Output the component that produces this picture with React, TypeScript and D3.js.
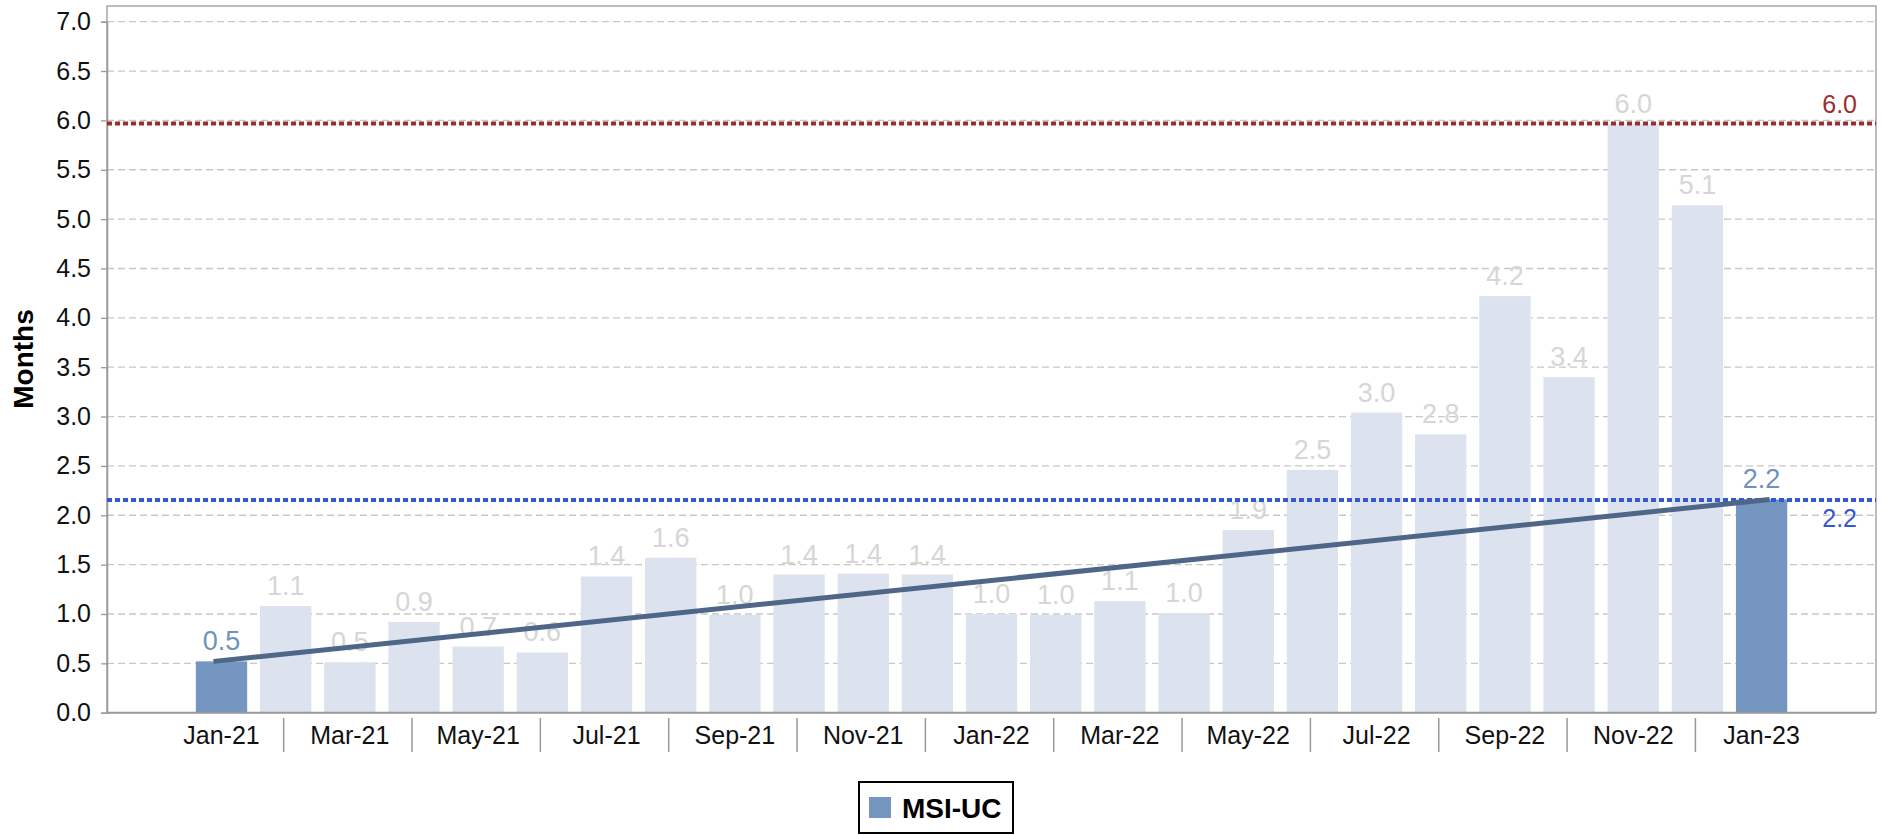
import React, { useEffect, useRef } from "react";
import * as d3 from "d3";

// months on the category axis
const months = [
  "Jan-21", "Feb-21", "Mar-21", "Apr-21", "May-21", "Jun-21", "Jul-21", "Aug-21", "Sep-21",
  "Oct-21", "Nov-21", "Dec-21", "Jan-22", "Feb-22", "Mar-22", "Apr-22", "May-22", "Jun-22",
  "Jul-22", "Aug-22", "Sep-22", "Oct-22", "Nov-22", "Dec-22", "Jan-23",
];
// months of supply (MSI-UC)
const msiValues = [
  0.52, 1.08, 0.51, 0.92, 0.67, 0.61, 1.38, 1.57, 0.99, 1.40, 1.41, 1.40, 1.00,
  0.99, 1.13, 1.01, 1.85, 2.46, 3.04, 2.82, 4.22, 3.40, 5.96, 5.14, 2.16,
];
const highlighted = ["Jan-21", "Jan-23"];
const yTicks = [0, 0.5, 1, 1.5, 2, 2.5, 3, 3.5, 4, 4.5, 5, 5.5, 6, 6.5, 7];
// horizontal reference lines: peak and current
const refValues = [5.97, 2.155];
const refLabels = ["6.0", "2.2"];
const refColors = ["#9e2b2e", "#3457d5"];

const W = 1886, H = 835;
const FONT = "'Liberation Sans', Arial, Helvetica, sans-serif";

export default function App() {
  const ref = useRef<SVGSVGElement>(null);

  useEffect(() => {
    const svg = d3.select(ref.current);
    svg.selectAll("*").remove();

    const left = 107, right = 1876, top = 6, bottom = 712.7;
    const y = d3.scaleLinear().domain([0, 7]).range([bottom, 21.7]);
    const x = d3.scaleBand().domain(months).range([183, 1800.1]).padding(0.2);
    const cx = (m: string) => (x(m) as number) + x.bandwidth() / 2;

    // frame
    svg.append("path")
      .attr("d", `M${left},${bottom}V${top}H${right}V${bottom}`)
      .attr("fill", "none").attr("stroke", "#a6a6a6").attr("stroke-width", 1.5);

    // gridlines
    svg.append("g").selectAll("line").data(yTicks.filter(t => t > 0)).join("line")
      .attr("x1", left).attr("x2", right)
      .attr("y1", d => y(d)).attr("y2", d => y(d))
      .attr("stroke", "#c8c8c8").attr("stroke-width", 1.3).attr("stroke-dasharray", "7,4");

    // y axis
    const yAxis = svg.append("g").attr("transform", `translate(${left},0)`)
      .call(d3.axisLeft(y).tickValues(yTicks).tickFormat(d3.format(".1f")).tickSize(6).tickPadding(10));
    yAxis.select(".domain").attr("stroke", "#999").attr("stroke-width", 1.5);
    yAxis.selectAll(".tick line").attr("stroke", "#999").attr("stroke-width", 1.3);
    yAxis.selectAll(".tick text").attr("font-family", FONT).attr("font-size", 25).attr("fill", "#111");

    svg.append("text")
      .attr("transform", `translate(33,359) rotate(-90)`)
      .attr("text-anchor", "middle").attr("font-family", FONT)
      .attr("font-size", 28).attr("font-weight", "bold").attr("fill", "#000")
      .text("Months");

    // bars
    svg.append("g").selectAll("rect").data(months).join("rect")
      .attr("x", d => x(d) as number).attr("width", x.bandwidth())
      .attr("y", (d, i) => y(msiValues[i]))
      .attr("height", (d, i) => bottom - y(msiValues[i]))
      .attr("fill", d => highlighted.includes(d) ? "#7496c0" : "#dce3ee");

    // value labels
    svg.append("g").selectAll("text").data(months).join("text")
      .attr("x", d => cx(d)).attr("y", (d, i) => y(msiValues[i]) - 11)
      .attr("text-anchor", "middle").attr("font-family", FONT).attr("font-size", 27)
      .attr("fill", d => highlighted.includes(d) ? "#7092be" : "#d6d6d6")
      .text((d, i) => msiValues[i].toFixed(1));

    // reference lines
    refValues.forEach((v, i) => {
      svg.append("line")
        .attr("x1", left).attr("x2", right).attr("y1", y(v)).attr("y2", y(v))
        .attr("stroke", refColors[i]).attr("stroke-width", 4).attr("stroke-dasharray", "5,3");
      svg.append("text")
        .attr("x", 1857).attr("y", i === 0 ? y(v) - 10 : y(v) + 27)
        .attr("text-anchor", "end").attr("font-family", FONT).attr("font-size", 25)
        .attr("fill", refColors[i]).text(refLabels[i]);
    });

    // trend line from first to last month
    const first = months[0], last = months[months.length - 1];
    svg.append("path")
      .datum([[cx(first) - 8, y(msiValues[0])], [cx(last) + 8, y(msiValues[msiValues.length - 1])]] as [number, number][])
      .attr("d", d3.line())
      .attr("stroke", "#4e6688").attr("stroke-width", 5).attr("fill", "none");

    // x axis
    svg.append("line").attr("x1", left).attr("x2", right).attr("y1", bottom).attr("y2", bottom)
      .attr("stroke", "#999").attr("stroke-width", 2);
    svg.append("g").selectAll("line").data(months.filter((d, i) => i % 2 === 1)).join("line")
      .attr("x1", d => cx(d) - 2).attr("x2", d => cx(d) - 2)
      .attr("y1", 718).attr("y2", 752)
      .attr("stroke", "#999").attr("stroke-width", 1.5);
    svg.append("g").selectAll("text").data(months.filter((d, i) => i % 2 === 0)).join("text")
      .attr("x", d => cx(d)).attr("y", 744)
      .attr("text-anchor", "middle").attr("font-family", FONT).attr("font-size", 25).attr("fill", "#111")
      .text(d => d);

    // legend
    const lg = svg.append("g");
    lg.append("rect").attr("x", 859).attr("y", 782).attr("width", 154).attr("height", 51)
      .attr("fill", "#fff").attr("stroke", "#000").attr("stroke-width", 2);
    lg.append("rect").attr("x", 869).attr("y", 797).attr("width", 22).attr("height", 21).attr("fill", "#7496c0");
    lg.append("text").attr("x", 902).attr("y", 818).attr("font-family", FONT)
      .attr("font-size", 28).attr("font-weight", "bold").attr("fill", "#000").text("MSI-UC");
  }, []);

  return (
    <svg ref={ref} width={W} height={H} style={{ position: "absolute", left: 0, top: 0, background: "#fff" }} />
  );
}
